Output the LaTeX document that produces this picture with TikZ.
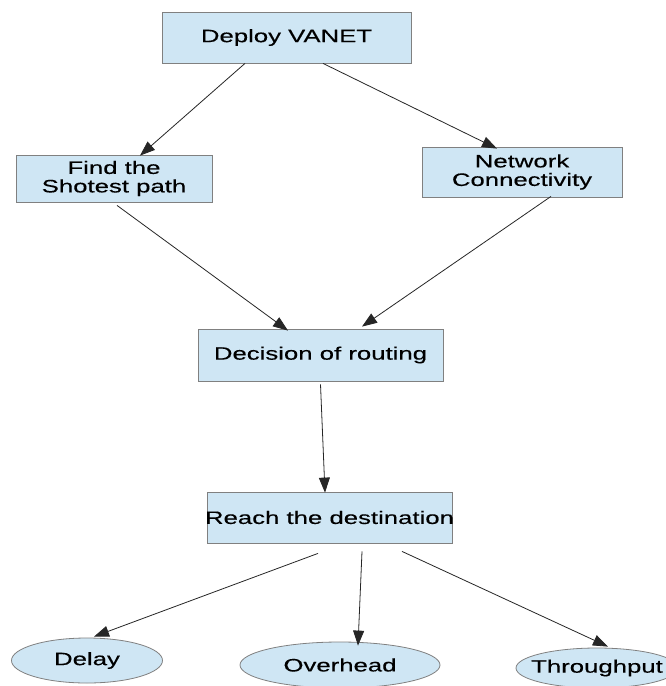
\documentclass[tikz,border=0pt]{standalone}
\usepackage{fontspec}
\setmainfont{Liberation Sans}[FakeStretch=1.43,FakeBold=0.3]
\usetikzlibrary{shapes.geometric,arrows.meta,calc}
\definecolor{boxfill}{RGB}{207,230,244}
\definecolor{boxline}{RGB}{128,128,128}
\tikzset{
  stepbox/.style={draw=boxline, fill=boxfill, line width=0.8pt, inner xsep=-6pt, inner ysep=0pt, align=center,
    font=\fontsize{18}{18.5}\selectfont},
  metric/.style={ellipse, draw=boxline, fill=boxfill, line width=0.8pt, inner xsep=-12pt, inner ysep=0pt,
    font=\fontsize{18}{18.5}\selectfont},
  conn/.style={draw=black!85, line width=0.8pt, -{Triangle[length=15pt,width=11pt]}},
}
\begin{document}
\begin{tikzpicture}[x=1pt,y=-1pt]
\useasboundingbox (0,0) rectangle (665,686);
\fill[white] (0,0) rectangle (665,686);
\node[stepbox, minimum width=249pt, minimum height=51pt] (deploy) at (286.5,37.5) {Deploy VANET};
\node[stepbox, minimum width=196pt, minimum height=47pt] (find) at (114,178.5) {Find the\\Shotest path};
\node[stepbox, minimum width=200pt, minimum height=50pt] (net) at (522,172) {Network\\Connectivity};
\node[stepbox, minimum width=245pt, minimum height=52pt] (dec) at (320.5,355) {Decision of routing};
\node[stepbox, minimum width=245pt, minimum height=51pt] (reach) at (329.5,517.5) {Reach the destination};
\node[metric, minimum width=151pt, minimum height=45pt] (delay) at (87,660.5) {Delay};
\node[metric, minimum width=200pt, minimum height=46pt] (over) at (340,665) {Overhead};
\node[metric, minimum width=162pt, minimum height=40pt] (thr) at (597,668) {Throughput};

\draw[conn] ($(deploy.south)+(-41.5,0)$) -- ($(find.north)+(26,1)$);
\draw[conn] ($(deploy.south)+(36.5,0)$) -- ($(net.north)+(-25,2)$);
\draw[conn] ($(find.south)+(3,3)$) -- ($(dec.north)+(-32.5,2)$);
\draw[conn] ($(net.south)+(29,-1)$) -- ($(dec.north)+(41.5,-2)$);
\draw[conn] ($(dec.south)+(0,3)$) -- ($(reach.north)+(-4.5,1)$);
\draw[conn] ($(reach.south)+(-11.5,10)$) -- ($(delay.north)+(7,-1)$);
\draw[conn] ($(reach.south)+(32.5,8)$) -- ($(over.north)+(18,4)$);
\draw[conn] ($(reach.south)+(72.5,8)$) -- ($(thr.north)+(11,-1)$);
\end{tikzpicture}
\end{document}
